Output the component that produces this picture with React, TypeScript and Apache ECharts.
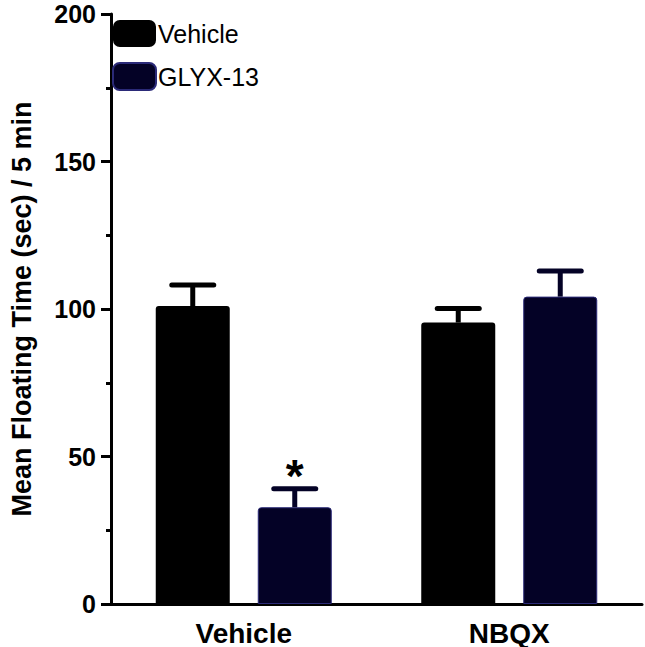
import React, { useEffect, useRef } from "react";
import * as echarts from "echarts";

const categories = ["Vehicle", "NBQX"];
const seriesNames = ["Vehicle", "GLYX-13"];
const vehicleMeans = [101, 95.4];
const vehicleErrors = [7.1, 4.8];
const glyxMeans = [32.8, 104.2];
const glyxErrors = [6.3, 8.7];
const glyxSignificance = ["*", ""];
const yTicks = { min: 0, max: 200, interval: 50 };

const BLACK = "#000000";
const NAVY = "#040226";
const BAR_W = 74;
const GAP_PX = 28;
const OFFSET = (BAR_W + GAP_PX) / 2;
const FONT = "'Liberation Sans', Arial, Helvetica, sans-serif";

function errorSeries(name: string, means: number[], errs: number[], offset: number, color: string, sig: string[] | null) {
  return {
    type: "custom",
    name,
    z: 5,
    data: means.map((m, i) => [i, m, errs[i]]),
    renderItem: (params: any, api: any) => {
      const cat = api.value(0);
      const mean = api.value(1);
      const err = api.value(2);
      const base = api.coord([cat, mean]);
      const top = api.coord([cat, mean + err]);
      const x = base[0] + offset;
      const children: any[] = [
        { type: "line", shape: { x1: x, y1: base[1], x2: x, y2: top[1] }, style: { stroke: color, lineWidth: 5 } },
        { type: "line", shape: { x1: x - 21, y1: top[1], x2: x + 21, y2: top[1] }, style: { stroke: color, lineWidth: 5, lineCap: "round" } },
      ];
      const s = sig ? sig[params.dataIndex] : "";
      if (s) {
        children.push({
          type: "text",
          x,
          y: top[1] - 13,
          style: { text: s, fill: BLACK, font: `bold 46px ${FONT}`, align: "center", verticalAlign: "middle" },
        });
      }
      return { type: "group", children };
    },
  };
}

export default function App() {
  const ref = useRef<HTMLDivElement>(null);
  useEffect(() => {
    if (!ref.current) return;
    const chart = echarts.init(ref.current, null, { renderer: "svg" });
    chart.setOption({
      animation: false,
      backgroundColor: "#ffffff",
      grid: { left: 96, right: 3, top: 14, bottom: 43, containLabel: false },
      legend: {
        data: seriesNames,
        orient: "vertical",
        left: 107,
        top: 15,
        itemWidth: 43,
        itemHeight: 27,
        itemGap: 15,
        icon: "roundRect",
        textStyle: { fontFamily: FONT, fontSize: 25, color: BLACK, padding: [0, 0, 0, -3] },
      },
      xAxis: {
        type: "category",
        data: categories,
        axisLine: { lineStyle: { color: BLACK, width: 3 } },
        axisTick: { alignWithLabel: true, length: 12, lineStyle: { width: 3, color: BLACK } },
        axisLabel: { fontFamily: FONT, fontWeight: "bold", fontSize: 28, color: BLACK, margin: 15 },
      },
      yAxis: {
        type: "value",
        min: yTicks.min,
        max: yTicks.max,
        interval: yTicks.interval,
        name: "Mean Floating Time (sec) / 5 min",
        nameLocation: "middle",
        nameGap: 76,
        nameTextStyle: { fontFamily: FONT, fontWeight: "bold", fontSize: 27, color: BLACK },
        axisLine: { show: true, lineStyle: { color: BLACK, width: 3 } },
        axisTick: { show: true, length: 10, lineStyle: { width: 3, color: BLACK } },
        minorTick: { show: true, splitNumber: 2, length: 5, lineStyle: { width: 3, color: BLACK } },
        splitLine: { show: false },
        axisLabel: { fontFamily: FONT, fontWeight: "bold", fontSize: 25, color: BLACK, margin: 15 },
      },
      series: [
        {
          type: "bar",
          name: seriesNames[0],
          data: vehicleMeans,
          barWidth: BAR_W,
          barGap: `${(GAP_PX / BAR_W) * 100}%`,
          itemStyle: { color: BLACK, borderRadius: [3, 3, 0, 0] },
        },
        {
          type: "bar",
          name: seriesNames[1],
          data: glyxMeans,
          barWidth: BAR_W,
          barGap: `${(GAP_PX / BAR_W) * 100}%`,
          itemStyle: { color: NAVY, borderColor: "#2b2a78", borderWidth: 1, borderRadius: [3, 3, 0, 0] },
        },
        errorSeries("err-vehicle", vehicleMeans, vehicleErrors, -OFFSET, BLACK, null),
        errorSeries("err-glyx", glyxMeans, glyxErrors, OFFSET, NAVY, glyxSignificance),
      ],
    });
    return () => chart.dispose();
  }, []);
  return <div ref={ref} style={{ position: "fixed", left: 0, top: 0, width: 645, height: 647 }} />;
}
